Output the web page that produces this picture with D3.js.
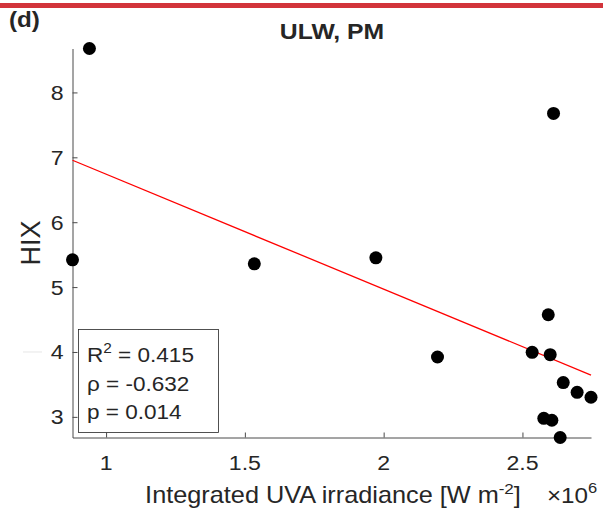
<!DOCTYPE html>
<html><head><meta charset="utf-8">
<script src="https://cdn.jsdelivr.net/npm/d3@7"></script>
<style>
body{margin:0;background:#fff}
svg{display:block}
text{font-family:"Liberation Sans",Arial,Helvetica,sans-serif;fill:#262626}
</style>
</head><body>
<svg id="c" width="603" height="516"></svg>
<script>
// Data (integrated UVA irradiance in units of 1e6 W m^-2, HIX)
const uva = [0.940, 0.879, 1.534, 1.972, 2.194, 2.535, 2.600, 2.593, 2.612, 2.647, 2.697, 2.747, 2.577, 2.606, 2.636];
const hix = [8.677, 5.420, 5.358, 5.451, 3.923, 3.994, 3.958, 4.574, 7.677, 3.528, 3.378, 3.302, 2.978, 2.948, 2.682];
const xTicks = [1, 1.5, 2, 2.5];
const yTicks = [3, 4, 5, 6, 7, 8];
const xTickLabels = ["1", "1.5", "2", "2.5"];
const yTickLabels = ["3", "4", "5", "6", "7", "8"];
const statNames = ["R", "\u03C1", "p"];
const statValues = ["0.415", "-0.632", "0.014"];
const panelLabel = "(d)";
const titleText = "ULW, PM";
const yLabel = "HIX";

const svg = d3.select("#c");
const SX = 1.1; // horizontal stretch of text
const ink = "#262626";

// top red bar
svg.append("rect").attr("x", 0).attr("y", 3).attr("width", 603).attr("height", 5).attr("fill", "#d2343b");

const x = d3.scaleLinear().domain(d3.extent(uva)).range([72.5, 591]);
const y = d3.scaleLinear().domain(d3.extent(hix)).range([437.5, 48.5]);

function txt(px, py, s, size, anchor, weight) {
  const t = svg.append("text")
    .attr("transform", `translate(${px},${py}) scale(${SX},1)`)
    .attr("font-size", size)
    .attr("text-anchor", anchor || "start")
    .attr("font-weight", weight || "normal");
  if (s !== null) t.text(s);
  return t;
}

// faint artifact line near the left
svg.append("line").attr("x1", 23).attr("x2", 42).attr("y1", y(4)).attr("y2", y(4))
  .attr("stroke", "#e6e6e6").attr("stroke-width", 1);

// axes (ticks pointing inward)
const gx = svg.append("g").attr("transform", `translate(0,${y.range()[0]})`)
  .call(d3.axisBottom(x).tickValues(xTicks).tickSizeInner(-5).tickSizeOuter(0).tickFormat(""));
const gy = svg.append("g").attr("transform", `translate(${x.range()[0]},0)`)
  .call(d3.axisLeft(y).tickValues(yTicks).tickSizeInner(-5).tickSizeOuter(0).tickFormat(""));
[gx, gy].forEach(g => {
  g.selectAll("path,line").attr("stroke", "#4a4a4a").attr("stroke-width", 1);
});

// tick labels
xTicks.forEach((t, i) => txt(x(t), 470, xTickLabels[i], 21, "middle"));
yTicks.forEach((t, i) => txt(x.range()[0] - 9, y(t) + 7.5, yTickLabels[i], 21, "end"));

// regression line (least squares from data)
const mx = d3.mean(uva), my = d3.mean(hix);
const sxy = d3.sum(uva, (v, i) => (v - mx) * (hix[i] - my));
const sxx = d3.sum(uva, v => (v - mx) * (v - mx));
const slope = sxy / sxx, icpt = my - slope * mx;
const [x0, x1] = x.domain();
svg.append("line")
  .attr("x1", x(x0)).attr("y1", y(icpt + slope * x0))
  .attr("x2", x(x1)).attr("y2", y(icpt + slope * x1))
  .attr("stroke", "#ff0000").attr("stroke-width", 1.3);

// points
svg.append("g").selectAll("circle").data(uva).join("circle")
  .attr("cx", d => x(d)).attr("cy", (d, i) => y(hix[i])).attr("r", 6.5).attr("fill", "#000");

// stats box
svg.append("rect").attr("x", 78.5).attr("y", 329.5).attr("width", 140).attr("height", 103)
  .attr("fill", "#fff").attr("stroke", ink).attr("stroke-width", 0.8);
const baselines = [362, 391, 419];
statNames.forEach((n, i) => {
  const t = txt(87, baselines[i], null, 20.5, "start");
  t.append("tspan").text(n);
  if (i === 0) t.append("tspan").attr("dy", -9).attr("font-size", 14).text("2");
  t.append("tspan").attr("dy", i === 0 ? 9 : 0).text(" = " + statValues[i]);
});

// title and panel label
txt(332, 39, titleText, 22.5, "middle", "bold").attr("fill", "#000");
txt(9, 27, panelLabel, 22, "start", "bold").attr("fill", "#000");

// x label
const xl = txt(333, 503, null, 23, "middle");
xl.append("tspan").text("Integrated UVA irradiance [W m");
xl.append("tspan").attr("dy", -9).attr("font-size", 15.5).text("-2");
xl.append("tspan").attr("dy", 9).text("]");
const ex = txt(547, 503, null, 22, "start");
ex.append("tspan").text("\u00D710");
ex.append("tspan").attr("dy", -10).attr("font-size", 15).text("6");

// y label
svg.append("text").attr("transform", `translate(40,${(y.range()[0] + y.range()[1]) / 2}) rotate(-90)`)
  .attr("font-size", 27).attr("text-anchor", "middle").attr("fill", "#000").text(yLabel);
</script>
</body></html>
